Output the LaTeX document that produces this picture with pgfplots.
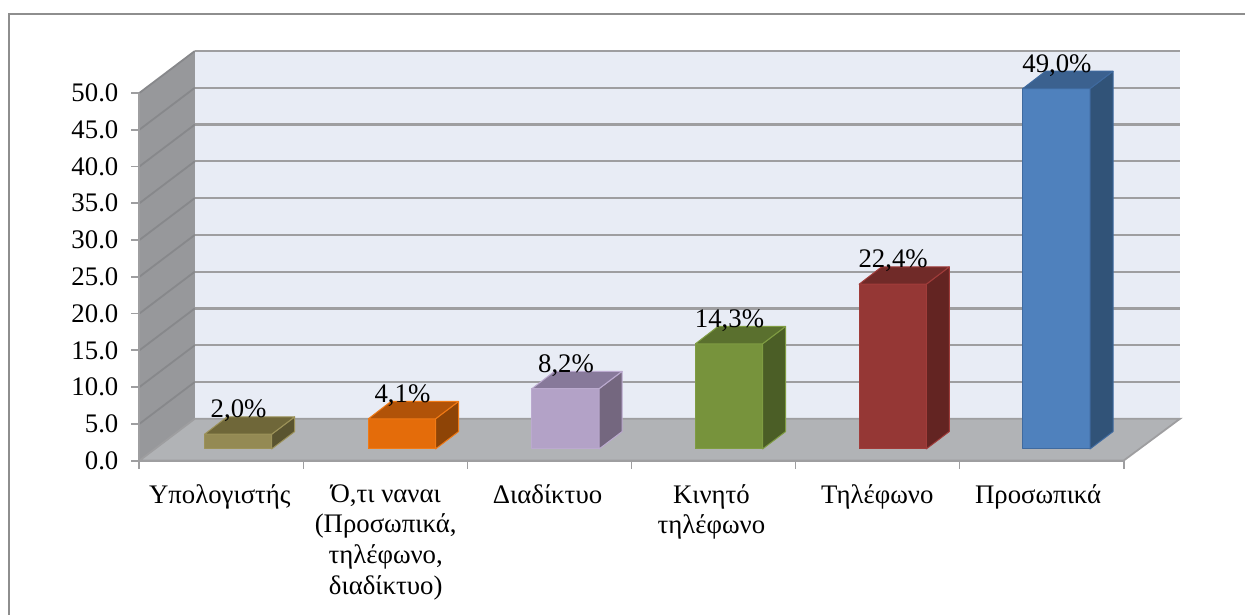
\documentclass[border=0pt]{standalone}
\usepackage{fontspec}
\setmainfont{Liberation Serif}
\usepackage{pgfplots}
\pgfplotsset{compat=1.18}
\definecolor{wallc}{HTML}{97989B}
\definecolor{walll}{HTML}{87888B}
\definecolor{backw}{HTML}{E8ECF5}
\definecolor{floorc}{HTML}{B1B3B6}
\definecolor{gridc}{HTML}{9E9EA0}
\definecolor{framec}{HTML}{8E8E8E}
\definecolor{oF}{HTML}{948A54}\definecolor{oT}{HTML}{6F6739}\definecolor{oS}{HTML}{5A5430}\definecolor{oE}{HTML}{9C9259}
\definecolor{rF}{HTML}{E46C0A}\definecolor{rT}{HTML}{B15308}\definecolor{rS}{HTML}{8E4406}\definecolor{rE}{HTML}{F07A15}
\definecolor{pF}{HTML}{B3A2C7}\definecolor{pT}{HTML}{87799A}\definecolor{pS}{HTML}{74677F}\definecolor{pE}{HTML}{BBAACF}
\definecolor{gF}{HTML}{77933C}\definecolor{gT}{HTML}{5A702E}\definecolor{gS}{HTML}{4B5E26}\definecolor{gE}{HTML}{7F9C42}
\definecolor{dF}{HTML}{953735}\definecolor{dT}{HTML}{702A28}\definecolor{dS}{HTML}{632422}\definecolor{dE}{HTML}{A03C3A}
\definecolor{bF}{HTML}{4F81BD}\definecolor{bT}{HTML}{3B618F}\definecolor{bS}{HTML}{315378}\definecolor{bE}{HTML}{3F6A9F}
% depth of the walls: 55.5 px and 5.7 units; bar base 1.59 units above the front edge
\newcommand\cbar[4]{% left x, value, label, colour prefix
  \addplot[fill=#4F,draw=#4E,line width=0.5pt,line join=round] coordinates {(#1+0.4,1.59) (#1+67.6,1.59) (#1+67.6,#2+1.59) (#1+0.4,#2+1.59)} --cycle;
  \addplot[fill=#4S,draw=#4E,line width=0.5pt,line join=round] coordinates {(#1+67.6,1.59) (#1+90.6,3.95) (#1+90.6,#2+3.95) (#1+67.6,#2+1.59)} --cycle;
  \addplot[fill=#4T,draw=#4E,line width=0.5pt,line join=round] coordinates {(#1+0.4,#2+1.59) (#1+23,#2+3.95) (#1+90.6,#2+3.95) (#1+67.6,#2+1.59)} --cycle;
  \node[anchor=base,font=\fontsize{13.4}{15}\selectfont,inner sep=0pt] at (axis cs:#1+34.5,#2+3.8) {#3};
}
\newcommand\glin[1]{%
  \addplot[walll,line width=0.9pt] coordinates {(139.5,#1) (195,#1+5.7)};
  \addplot[gridc,line width=1.1pt] coordinates {(195,#1+5.7) (1181,#1+5.7)};
}
\begin{document}
\begin{tikzpicture}
\begin{axis}[
  scale only axis, width=492.5pt, height=184pt,
  xmin=139.5, xmax=1124.5, ymin=0, ymax=50,
  clip=false,
  axis lines=left,
  axis line style={-,draw=gridc,line width=1pt},
  tick align=outside,
  major tick length=4pt, minor tick length=4pt,
  tick style={draw=gridc,line width=0.9pt},
  major x tick style={draw=none},
  xtick={220,386,548,712,878,1039},
  minor xtick={139.5,303.7,467.8,632,796.2,960.3,1124.5},
  xticklabels={Υπολογιστής,{Ό,τι ναναι\\(Προσωπικά,\\τηλέφωνο,\\διαδίκτυο)},Διαδίκτυο,{Κινητό\\τηλέφωνο},Τηλέφωνο,Προσωπικά},
  xticklabel style={align=center,font=\fontsize{13.4}{15.35}\selectfont,yshift=-4.3pt},
  ytick={0,5,...,50},
  yticklabel style={font=\fontsize{13.4}{15}\selectfont,xshift=-3pt,
    /pgf/number format/.cd,fixed,fixed zerofill,precision=1,assume math mode=true},
]
\path (axis cs:0,-20.924) rectangle (axis cs:1246,62.636);
\addplot[framec,line width=1pt] coordinates {(9.5,-20.924) (9.5,60.74) (1246,60.74)};
\addplot[draw=none,fill=backw] coordinates {(195,5.7) (1181,5.7) (1181,55.7) (195,55.7)} --cycle;
\addplot[draw=none,fill=wallc] coordinates {(139.5,0) (195,5.7) (195,55.7) (139.5,50)} --cycle;
\glin{5}\glin{10}\glin{15}\glin{20}\glin{25}\glin{30}\glin{35}\glin{40}\glin{45}\glin{50}
\addplot[gridc,line width=0.8pt] coordinates {(139.5,0) (139.5,50)};
\addplot[draw=gridc,line width=0.9pt,fill=floorc] coordinates {(139.5,0) (1124.5,0) (1181,5.7) (195,5.7)} --cycle;
\addplot[gridc,line width=1pt] coordinates {(139.5,0) (1124.5,0)};
\cbar{204.3}{2.0}{2,0\%}{o}
\cbar{368.3}{4.1}{4,1\%}{r}
\cbar{532}{8.2}{8,2\%}{p}
\cbar{695.6}{14.3}{14,3\%}{g}
\cbar{859.4}{22.4}{22,4\%}{d}
\cbar{1023.3}{49.0}{49,0\%}{b}
\end{axis}
\end{tikzpicture}
\end{document}
